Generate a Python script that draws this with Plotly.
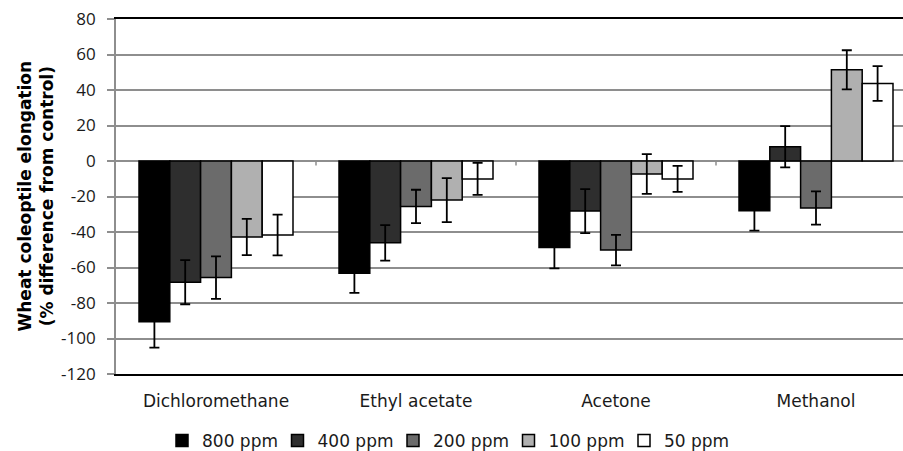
import plotly.graph_objects as go

categories = ["Dichloromethane", "Ethyl acetate", "Acetone", "Methanol"]
series_names = ["800 ppm", "400 ppm", "200 ppm", "100 ppm", "50 ppm"]
v800 = [-90.5, -63.3, -48.7, -28.0]
e800 = [14.6, 11.0, 11.8, 11.2]
v400 = [-68.3, -46.1, -28.2, 8.0]
e400 = [12.4, 10.0, 12.4, 11.6]
v200 = [-65.7, -25.6, -50.2, -26.5]
e200 = [12.0, 9.4, 8.6, 9.4]
v100 = [-42.8, -22.0, -7.3, 51.4]
e100 = [10.2, 12.4, 11.2, 11.0]
v50 = [-41.7, -10.1, -10.1, 43.7]
e50 = [11.5, 9.0, 7.3, 9.8]
colors = ["#000000", "#2e2e2e", "#6b6b6b", "#b0b0b0", "#ffffff"]
yticks = [-120, -100, -80, -60, -40, -20, 0, 20, 40, 60, 80]

values = [v800, v400, v200, v100, v50]
errors = [e800, e400, e200, e100, e50]

W, H = 903, 451
L, R, T, B = 116, 0, 18.5, 76.5
cat_px = 200.0
plot_w = W - L - R
plot_h = H - T - B

fig = go.Figure()
for name, vals, errs, col in zip(series_names, values, errors, colors):
    fig.add_trace(go.Bar(
        name=name, x=categories, y=vals,
        marker=dict(color=col, line=dict(color="#000000", width=1.5)),
        error_y=dict(type="data", array=errs, visible=True, color="#000000",
                     thickness=1.8, width=5),
    ))

shapes = []
for b in [0.5, 1.5, 2.5]:
    shapes.append(dict(type="line", xref="x", yref="y", x0=b, x1=b, y0=0, y1=-2.6,
                       line=dict(color="#8c8c8c", width=1.5), layer="above"))

fig.update_layout(
    width=W, height=H,
    margin=dict(l=L, r=R, t=T, b=B, pad=0),
    paper_bgcolor="white", plot_bgcolor="white",
    barmode="group", bargap=0.23, bargroupgap=0,
    showlegend=True,
    legend=dict(orientation="h", x=(162 - L) / plot_w, xanchor="left",
                yref="container", y=(H - 423) / H, yanchor="top",
                font=dict(family="DejaVu Sans", size=17, color="#1a1a1a"),
                entrywidth=70.5, entrywidthmode="pixels", traceorder="normal",
                borderwidth=0, bgcolor="rgba(0,0,0,0)"),
    xaxis=dict(range=[-0.5, -0.5 + plot_w / cat_px], showgrid=False,
               showline=True, linecolor="#000000", linewidth=1.6, mirror=True,
               ticks="", tickfont=dict(family="DejaVu Sans", size=17, color="#1a1a1a"),
               ticklabelstandoff=11, fixedrange=True),
    yaxis=dict(range=[-120, 80], tickvals=yticks, ticktext=[str(t) for t in yticks],
               showgrid=True, gridcolor="#8e8e8e", gridwidth=1.7,
               zeroline=True, zerolinecolor="#8e8e8e", zerolinewidth=1.7,
               showline=True, linecolor="#8e8e8e", linewidth=1.7,
               ticks="outside", ticklen=7, tickwidth=1.5, tickcolor="#8e8e8e",
               tickfont=dict(family="Open Sans", size=17, color="#1a1a1a"),
               ticklabelstandoff=8, fixedrange=True),
    shapes=shapes,
    annotations=[dict(text="<b>Wheat coleoptile elongation<br>(% difference from control)</b>",
                      xref="paper", yref="paper", x=(35 - L) / plot_w, y=0.5,
                      xanchor="center", yanchor="middle", textangle=-90, showarrow=False,
                      font=dict(family="DejaVu Sans", size=17, color="#000000"))],
)

fig.write_html("out.html")
